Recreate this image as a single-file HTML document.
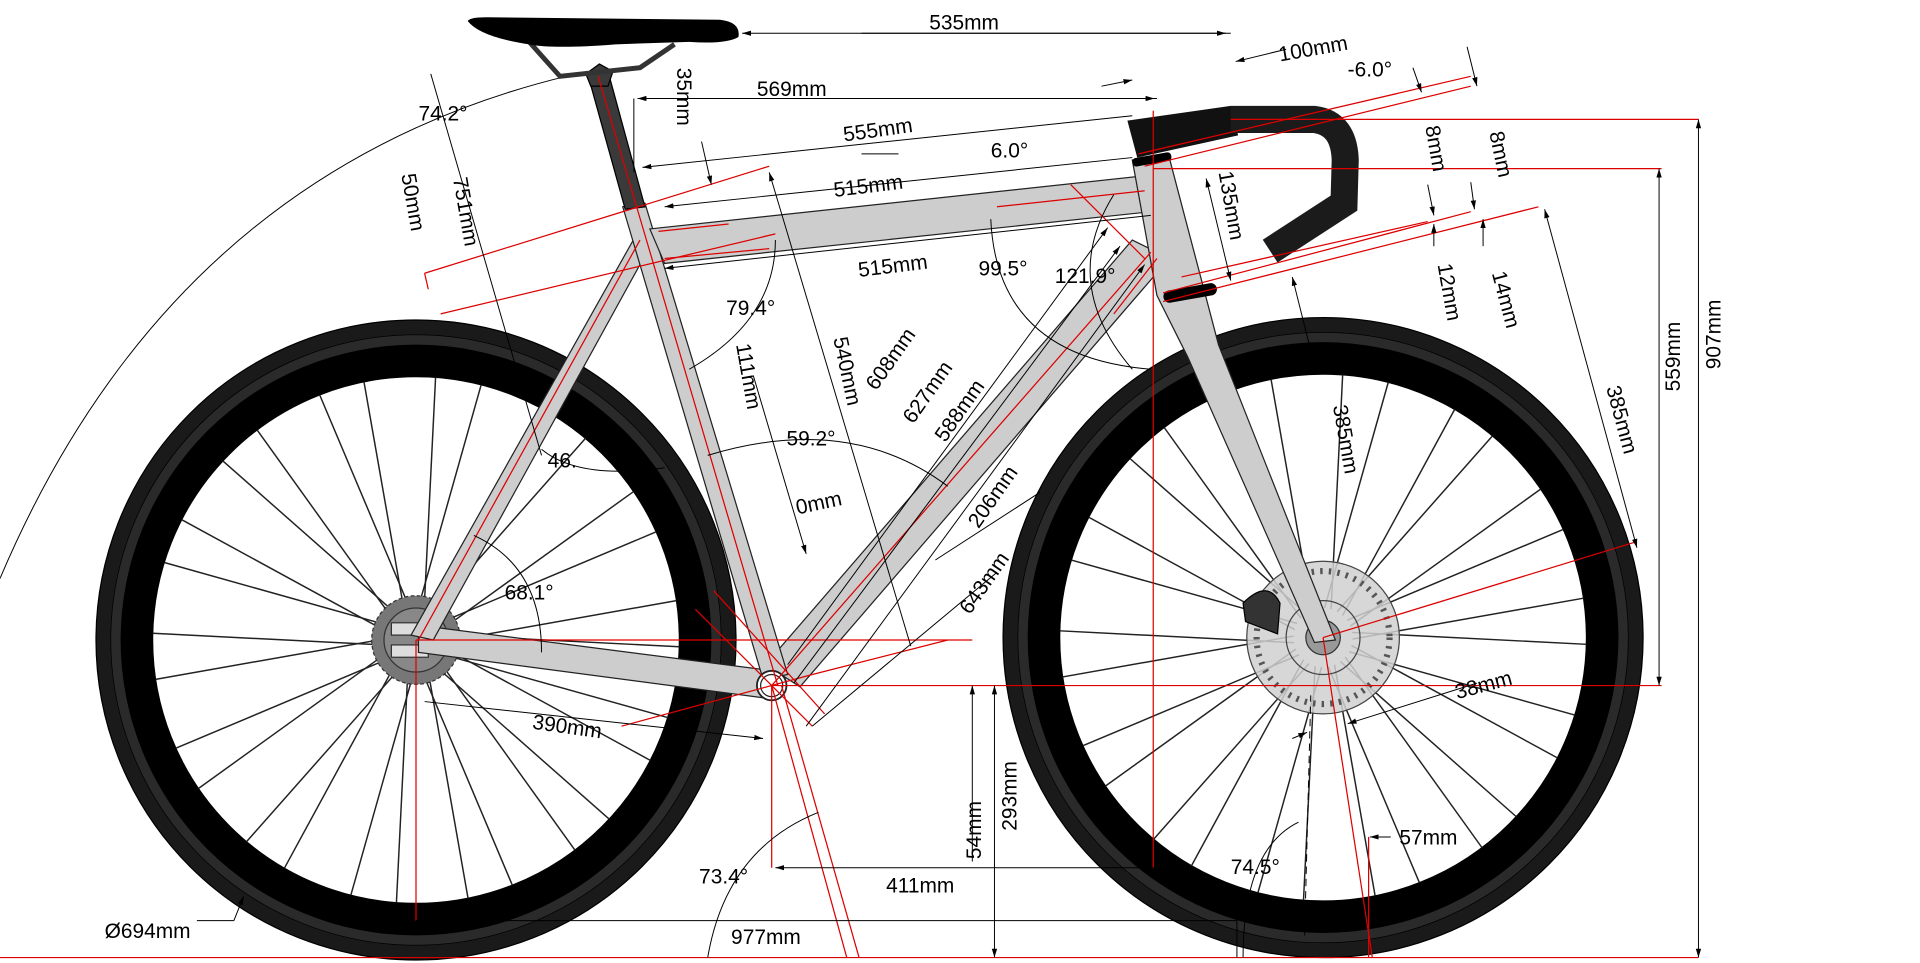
<!DOCTYPE html>
<html><head><meta charset="utf-8"><style>
html,body{margin:0;padding:0;background:#fff;}
svg{display:block}
text{font-family:"Liberation Sans",Arial,sans-serif;font-size:17px;fill:#000}
</style></head><body>
<svg id="s" width="1920" height="963" viewBox="0 0 1560 782.4" xmlns="http://www.w3.org/2000/svg">
<defs>
<marker id="a" viewBox="0 0 10 10" refX="10" refY="5" markerWidth="9" markerHeight="9" orient="auto-start-reverse"><path d="M0,2 L10,5 L0,8z" fill="#000"/></marker>
</defs>
<path d="M0,470 Q140,140 460,62" fill="none" stroke="#000" stroke-width="0.8"/>
<g id="wheels"></g>
<circle cx="338" cy="520" r="36" fill="#777" stroke="#333" stroke-width="1" stroke-dasharray="3 2"/>
<circle cx="338" cy="520" r="26" fill="#888" stroke="#333"/>
<rect x="318" y="506" width="30" height="10" fill="#ddd" stroke="#333"/>
<rect x="318" y="524" width="30" height="10" fill="#ddd" stroke="#333"/>
<circle cx="1075" cy="518" r="62" fill="#d0d0d0" stroke="#444" stroke-width="1" fill-opacity="0.85"/>
<circle cx="1075" cy="518" r="54" fill="none" stroke="#555" stroke-width="5" stroke-dasharray="2 5"/>
<circle cx="1075" cy="518" r="30" fill="none" stroke="#444"/>
<circle cx="1075" cy="518" r="14" fill="#999" stroke="#333"/>
<path d="M1010,490 Q1030,470 1040,490 L1038,515 L1012,505z" fill="#333" stroke="#000"/>
<g fill="#cdcdcd" stroke="#222" stroke-width="1">
<polygon points="340,508 628,545 628,568 340,530"/>
<polygon points="514,196 526,204 352,520 334,516"/>
<polygon points="920,195 950,210 650,558 622,540"/>
<polygon points="506,168 524,165 640,548 620,552"/>
<polygon points="528,186 928,143 935,172 540,214"/>
<polygon points="920,130 950,128 990,280 1085,520 1068,522 965,290 940,240"/>
</g>
<circle cx="627" cy="557" r="12" fill="#fff" stroke="#222" stroke-width="1.5"/>
<circle cx="627" cy="557" r="9" fill="none" stroke="#222"/>
<polygon points="478,62 494,58 524,168 508,170" fill="#3a3a3a" stroke="#000"/>
<polygon points="476,60 487,52 498,58 494,70 480,70" fill="#3a3a3a" stroke="#000"/>
<path d="M430,34 L455,62 L520,55 L548,36" fill="none" stroke="#333" stroke-width="4"/>
<path d="M380,17 Q382,14 395,14 L585,16 Q602,18 600,30 Q590,36 560,34 L500,36 Q450,40 430,36 Q390,30 380,17z" fill="#000"/>
<polygon points="916,98 1000,86 1006,110 924,128" fill="#111"/>
<rect x="920" y="126" width="32" height="7" rx="3" fill="#000" transform="rotate(-10 936 130)"/>
<rect x="945" y="233" width="44" height="10" rx="5" fill="#000" transform="rotate(-10 967 238)"/>
<path d="M1000,97 L1068,97 Q1092,100 1093,130 L1092,165 L1032,204" fill="none" stroke="#1b1b1b" stroke-width="22"/>
<g stroke="#d00" stroke-width="1" fill="none">
<line x1="0" y1="778" x2="1380" y2="778"/>
<line x1="338" y1="520" x2="790" y2="520"/>
<line x1="338" y1="520" x2="338" y2="748"/>
<line x1="627" y1="557" x2="1350" y2="557"/>
<line x1="937" y1="137" x2="1350" y2="137"/>
<line x1="1000" y1="97" x2="1380" y2="97"/>
<line x1="937" y1="90" x2="937" y2="705"/>
<line x1="627" y1="557" x2="627" y2="705"/>
<line x1="627" y1="557" x2="688" y2="778"/>
<line x1="635" y1="557" x2="698" y2="778"/>
<line x1="486" y1="62" x2="632" y2="557"/>
<line x1="627" y1="557" x2="935" y2="205"/>
<line x1="520" y1="195" x2="340" y2="520"/>
<line x1="1075" y1="518" x2="1115" y2="778"/>
<line x1="1075" y1="518" x2="1330" y2="440"/>
<line x1="1112" y1="680" x2="1112" y2="778"/>
<line x1="345" y1="222" x2="625" y2="135"/>
<line x1="358" y1="255" x2="630" y2="190"/>
<line x1="345" y1="222" x2="348" y2="235"/>
<line x1="925" y1="125" x2="1195" y2="62"/>
<line x1="930" y1="135" x2="1195" y2="70"/>
<line x1="945" y1="245" x2="1250" y2="168"/>
<line x1="945" y1="238" x2="1195" y2="172"/>
<line x1="960" y1="225" x2="1160" y2="180"/>
<line x1="535" y1="188" x2="592" y2="182"/>
<line x1="540" y1="210" x2="625" y2="202"/>
<line x1="505" y1="590" x2="660" y2="548"/>
<line x1="660" y1="548" x2="770" y2="520"/>
<line x1="580" y1="480" x2="670" y2="580"/>
<line x1="565" y1="495" x2="660" y2="590"/>
<line x1="810" y1="168" x2="930" y2="155"/>
<line x1="870" y1="150" x2="930" y2="210"/>
<line x1="905" y1="255" x2="940" y2="210"/>
</g>
<g stroke="#000" stroke-width="0.8" fill="none">
<line x1="1000" y1="27" x2="603" y2="27" marker-end="url(#a)"/>
<line x1="700" y1="27" x2="996" y2="27" marker-end="url(#a)"/>
<line x1="940" y1="80" x2="518" y2="80" marker-end="url(#a)"/>
<line x1="600" y1="80" x2="938" y2="80" marker-end="url(#a)"/>
<line x1="515" y1="80" x2="515" y2="140"/>
<line x1="920" y1="94" x2="522" y2="136" marker-end="url(#a)"/>
<line x1="920" y1="128" x2="540" y2="168" marker-end="url(#a)"/>
<line x1="935" y1="175" x2="540" y2="218" marker-end="url(#a)"/>
<line x1="1380" y1="97" x2="1380" y2="778" marker-start="url(#a)" marker-end="url(#a)"/>
<line x1="1348" y1="137" x2="1348" y2="557" marker-start="url(#a)" marker-end="url(#a)"/>
<line x1="808" y1="557" x2="808" y2="778" marker-start="url(#a)" marker-end="url(#a)"/>
<line x1="790" y1="557" x2="790" y2="700" marker-start="url(#a)"/>
<line x1="937" y1="705" x2="630" y2="705" marker-end="url(#a)"/>
<line x1="338" y1="748" x2="1005" y2="748"/>
<line x1="1005" y1="748" x2="1005" y2="778"/>
<line x1="345" y1="570" x2="620" y2="600" marker-end="url(#a)"/>
<line x1="350" y1="60" x2="440" y2="370"/>
<line x1="625" y1="140" x2="740" y2="525" marker-start="url(#a)"/>
<line x1="700" y1="125" x2="730" y2="125"/>
<line x1="570" y1="115" x2="578" y2="150" marker-end="url(#a)"/>
<line x1="640" y1="540" x2="900" y2="185" marker-end="url(#a)"/>
<line x1="645" y1="555" x2="910" y2="200" marker-end="url(#a)"/>
<line x1="655" y1="590" x2="930" y2="215" marker-end="url(#a)"/>
<line x1="612" y1="305" x2="655" y2="450" marker-end="url(#a)"/>
<line x1="760" y1="455" x2="845" y2="400"/>
<line x1="660" y1="590" x2="810" y2="465"/>
<line x1="1050" y1="225" x2="1065" y2="285" marker-start="url(#a)"/>
<line x1="1255" y1="170" x2="1330" y2="445" marker-start="url(#a)" marker-end="url(#a)"/>
<line x1="980" y1="145" x2="1000" y2="228" marker-start="url(#a)" marker-end="url(#a)"/>
<line x1="1148" y1="55" x2="1155" y2="75" marker-end="url(#a)"/>
<line x1="1192" y1="38" x2="1200" y2="70" marker-end="url(#a)"/>
<line x1="1160" y1="150" x2="1165" y2="175" marker-end="url(#a)"/>
<line x1="1195" y1="148" x2="1198" y2="170" marker-end="url(#a)"/>
<line x1="1205" y1="200" x2="1205" y2="178" marker-end="url(#a)"/>
<line x1="1165" y1="200" x2="1165" y2="182" marker-end="url(#a)"/>
<line x1="1045" y1="40" x2="1004" y2="50" marker-end="url(#a)"/>
<line x1="895" y1="70" x2="920" y2="65" marker-end="url(#a)"/>
<line x1="1200" y1="555" x2="1095" y2="588" marker-end="url(#a)"/>
<line x1="1130" y1="680" x2="1113" y2="680" marker-end="url(#a)"/>
<line x1="1050" y1="600" x2="1062" y2="595" marker-end="url(#a)"/>
<line x1="190" y1="748" x2="160" y2="748"/>
<line x1="190" y1="748" x2="198" y2="728" marker-end="url(#a)"/>
<path d="M560,300 Q630,260 630,195"/>
<path d="M575,370 Q690,335 770,395"/>
<path d="M440,365 Q470,390 540,380"/>
<path d="M385,435 Q440,460 440,530"/>
<path d="M575,778 Q590,690 665,660"/>
<path d="M1055,668 Q1010,690 1010,778"/>
<path d="M805,178 Q810,290 935,300"/>
<path d="M905,158 Q860,230 920,300"/>
<path d="M1060,760 L1065,565" stroke-dasharray="6 4"/>
</g>
<text x="755" y="24">535mm</text>
<text x="1040" y="50" transform="rotate(-10 1040 50)">100mm</text>
<text x="1095" y="62">-6.0°</text>
<text x="615" y="78">569mm</text>
<text x="550" y="55" transform="rotate(90 550 55)">35mm</text>
<text x="686" y="115" transform="rotate(-8 686 115)">555mm</text>
<text x="805" y="128">6.0°</text>
<text x="678" y="160" transform="rotate(-7 678 160)">515mm</text>
<text x="698" y="225" transform="rotate(-7 698 225)">515mm</text>
<text x="795" y="224">99.5°</text>
<text x="857" y="230">121.9°</text>
<text x="590" y="256">79.4°</text>
<text x="598" y="280" transform="rotate(80 598 280)">111mm</text>
<text x="677" y="275" transform="rotate(78 677 275)">540mm</text>
<text x="712" y="318" transform="rotate(-55 712 318)">608mm</text>
<text x="742" y="345" transform="rotate(-55 742 345)">627mm</text>
<text x="768" y="360" transform="rotate(-55 768 360)">588mm</text>
<text x="639" y="362">59.2°</text>
<text x="445" y="380">46.</text>
<text x="648" y="418" transform="rotate(-12 648 418)">0mm</text>
<text x="795" y="430" transform="rotate(-55 795 430)">206mm</text>
<text x="788" y="500" transform="rotate(-55 788 500)">643mm</text>
<text x="410" y="487">68.1°</text>
<text x="432" y="592" transform="rotate(8 432 592)">390mm</text>
<text x="568" y="718">73.4°</text>
<text x="720" y="725">411mm</text>
<text x="594" y="767">977mm</text>
<text x="797" y="698" transform="rotate(-90 797 698)">54mm</text>
<text x="826" y="675" transform="rotate(-90 826 675)">293mm</text>
<text x="85" y="762">Ø694mm</text>
<text x="1000" y="710">74.5°</text>
<text x="1137" y="686">57mm</text>
<text x="1184" y="568" transform="rotate(-15 1184 568)">38mm</text>
<text x="1083" y="330" transform="rotate(80 1083 330)">385mm</text>
<text x="1305" y="315" transform="rotate(75 1305 315)">385mm</text>
<text x="1365" y="318" transform="rotate(-90 1365 318)">559mm</text>
<text x="1398" y="300" transform="rotate(-90 1398 300)">907mm</text>
<text x="1158" y="103" transform="rotate(80 1158 103)">8mm</text>
<text x="1210" y="108" transform="rotate(78 1210 108)">8mm</text>
<text x="1168" y="215" transform="rotate(80 1168 215)">12mm</text>
<text x="1212" y="222" transform="rotate(75 1212 222)">14mm</text>
<text x="990" y="140" transform="rotate(80 990 140)">135mm</text>
<text x="340" y="98">74.2°</text>
<text x="368" y="145" transform="rotate(80 368 145)">751mm</text>
<text x="326" y="142" transform="rotate(80 326 142)">50mm</text>
</svg>
<script>
(function(){
var g=document.getElementById('wheels'),ns='http://www.w3.org/2000/svg';
function el(t,a){var e=document.createElementNS(ns,t);for(var k in a)e.setAttribute(k,a[k]);g.appendChild(e);return e;}
[[338,520],[1075,518]].forEach(function(c){
 var x=c[0],y=c[1];
 el('circle',{cx:x,cy:y,r:260,fill:'#1a1a1a',stroke:'#000'});
 el('circle',{cx:x,cy:y,r:248,fill:'#2a2a2a',stroke:'#000','stroke-width':0.6});
 el('circle',{cx:x,cy:y,r:240,fill:'#000'});
 el('circle',{cx:x,cy:y,r:214,fill:'#fff',stroke:'#000'});
 for(var i=0;i<28;i++){
  var a=i*2*Math.PI/28+0.05, off=(i%2?1:-1)*0.2;
  var hx=x+24*Math.cos(a),hy=y+24*Math.sin(a);
  var rx=x+214*Math.cos(a+off),ry=y+214*Math.sin(a+off);
  el('line',{x1:hx,y1:hy,x2:rx,y2:ry,stroke:'#222','stroke-width':1.2});
 }
});
})();
</script>
</body></html>
